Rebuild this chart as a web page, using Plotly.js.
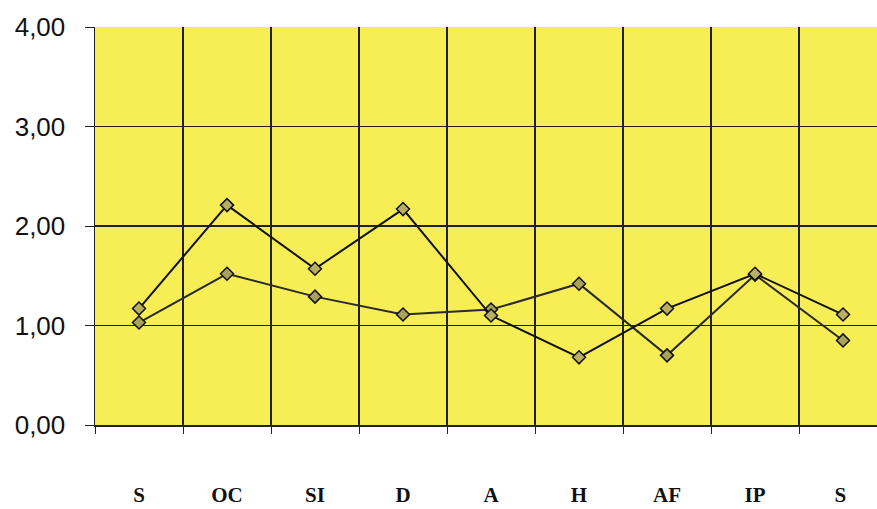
<!DOCTYPE html>
<html>
<head>
<meta charset="utf-8">
<script src="https://cdn.plot.ly/plotly-3.0.1.min.js"></script>
<style>html,body{margin:0;padding:0;background:#fff;}#chart{width:877px;height:509px;}</style>
</head>
<body>
<div id="chart"></div>
<script>
const categories = ["S", "OC", "SI", "D", "A", "H", "AF", "IP", "S "];
const series1 = [1.17, 2.21, 1.57, 2.17, 1.10, 0.68, 1.17, 1.52, 1.11];
const series2 = [1.03, 1.52, 1.29, 1.11, 1.16, 1.42, 0.70, 1.51, 0.85];
const yTicks = [0, 1, 2, 3, 4];
const yTickLabels = ["0,00", "1,00", "2,00", "3,00", "4,00"];

function trace(vals, lineColor, fill) {
  return {
    x: categories, y: vals, type: "scatter", mode: "lines+markers",
    line: {color: lineColor, width: 2},
    marker: {symbol: "diamond", size: 10, color: fill, line: {color: "#111", width: 1.5}},
    hoverinfo: "skip", showlegend: false, cliponaxis: false
  };
}

const data = [
  trace(series2, "#2a2a2a", "#a9a25a"),
  trace(series1, "#111111", "#b8b060")
];

const layout = {
  width: 877, height: 509,
  margin: {l: 95, r: 0, t: 27, b: 84},
  paper_bgcolor: "#ffffff",
  plot_bgcolor: "#f7ed55",
  xaxis: {
    type: "category",
    categoryorder: "array", categoryarray: categories,
    range: [-0.5, 8.386],
    tickson: "boundaries",
    showgrid: true, gridcolor: "#222", gridwidth: 1.3,
    ticks: "outside", ticklen: 7, tickcolor: "#222", tickwidth: 1,
    showline: true, linecolor: "#222", linewidth: 1.5,
    ticklabelstandoff: 50,
    tickfont: {family: "Liberation Serif", size: 21, color: "#111", weight: "bold"},
    zeroline: false, fixedrange: true
  },
  yaxis: {
    range: [0, 4],
    tickmode: "array", tickvals: yTicks, ticktext: yTickLabels,
    showgrid: true, gridcolor: "#222", gridwidth: 1.3,
    ticks: "outside", ticklen: 9, tickcolor: "#222", tickwidth: 1,
    showline: true, linecolor: "#222", linewidth: 1.5,
    ticklabelstandoff: 14,
    tickfont: {family: "Liberation Sans", size: 26, color: "#111"},
    zeroline: false, fixedrange: true
  }
};

Plotly.newPlot("chart", data, layout, {displayModeBar: false, staticPlot: true});
</script>
</body>
</html>
